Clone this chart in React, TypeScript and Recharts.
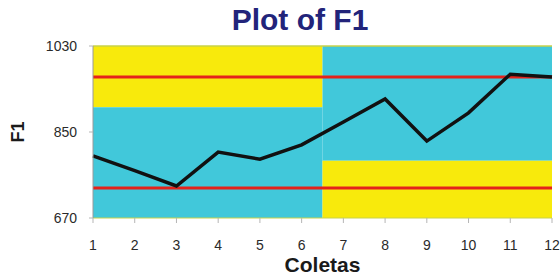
import { ComposedChart, Line, XAxis, YAxis, ReferenceArea, ReferenceLine, Label } from 'recharts';

const coletas = [1, 2, 3, 4, 5, 6, 7, 8, 9, 10, 11, 12];
const f1Values = [800, 769, 737, 808, 793, 823, 871, 919, 831, 890, 971, 965];
const yTicks = [670, 850, 1030];
const upperLimit = 965;
const lowerLimit = 733;
const split = 6.5;
const leftBandLow = 902;
const rightBandHigh = 790;

const data = coletas.map((c, i) => ({ coleta: c, f1: f1Values[i] }));

const YELLOW = '#f8ea0c';
const CYAN = '#41c8da';
const RED = '#e4221b';
const FONT = '"Liberation Sans", Arial, sans-serif';

export default function App() {
  return (
    <div style={{ position: 'absolute', left: 0, top: 0, width: 560, height: 278, background: '#fff', fontFamily: FONT }}>
      <div
        style={{
          position: 'absolute',
          left: 0,
          width: 600,
          top: 3,
          textAlign: 'center',
          fontSize: 30,
          fontWeight: 'bold',
          color: '#22247a',
          lineHeight: '34px',
        }}
      >
        Plot of F1
      </div>
      <ComposedChart width={560} height={278} data={data} margin={{ top: 46, right: 8, left: 0, bottom: 0 }}>
        <XAxis
          dataKey="coleta"
          type="number"
          domain={[1, 12]}
          ticks={coletas}
          interval={0}
          height={60}
          axisLine={{ stroke: '#c9d24a' }}
          tickLine={{ stroke: '#b5b5b5' }}
          tickSize={5}
          tickMargin={17}
          tick={{ fontSize: 14, fill: '#2a2a2a', fontFamily: FONT }}
        >
          <Label value="Coletas" position="insideBottom" offset={6} style={{ fontSize: 21, fontWeight: 'bold', fill: '#1a1a1a', fontFamily: FONT }} />
        </XAxis>
        <YAxis
          type="number"
          domain={[670, 1030]}
          ticks={yTicks}
          width={93}
          axisLine={{ stroke: '#9a9a9a' }}
          tickLine={{ stroke: '#b5b5b5' }}
          tickSize={4}
          tickMargin={12}
          tick={{ fontSize: 14, fill: '#2a2a2a', fontFamily: FONT }}
        >
          <Label value="F1" angle={-90} position="insideLeft" offset={18} style={{ fontSize: 18, fontWeight: 'bold', fill: '#1a1a1a', fontFamily: FONT, textAnchor: 'middle' }} />
        </YAxis>
        <ReferenceArea x1={1} x2={split} y1={leftBandLow} y2={1030} fill={YELLOW} fillOpacity={1} stroke="none" />
        <ReferenceArea x1={1} x2={split} y1={670} y2={leftBandLow} fill={CYAN} fillOpacity={1} stroke="none" />
        <ReferenceArea x1={split} x2={12} y1={rightBandHigh} y2={1030} fill={CYAN} fillOpacity={1} stroke="none" />
        <ReferenceArea x1={split} x2={12} y1={670} y2={rightBandHigh} fill={YELLOW} fillOpacity={1} stroke="none" />
        <ReferenceLine y={1030} stroke="#c9d24a" strokeWidth={1.5} />
        <ReferenceLine y={upperLimit} stroke={RED} strokeWidth={3} />
        <ReferenceLine y={lowerLimit} stroke={RED} strokeWidth={3} />
        <Line
          type="linear"
          dataKey="f1"
          stroke="#111"
          strokeWidth={3.5}
          dot={false}
          isAnimationActive={false}
        />
      </ComposedChart>
    </div>
  );
}
